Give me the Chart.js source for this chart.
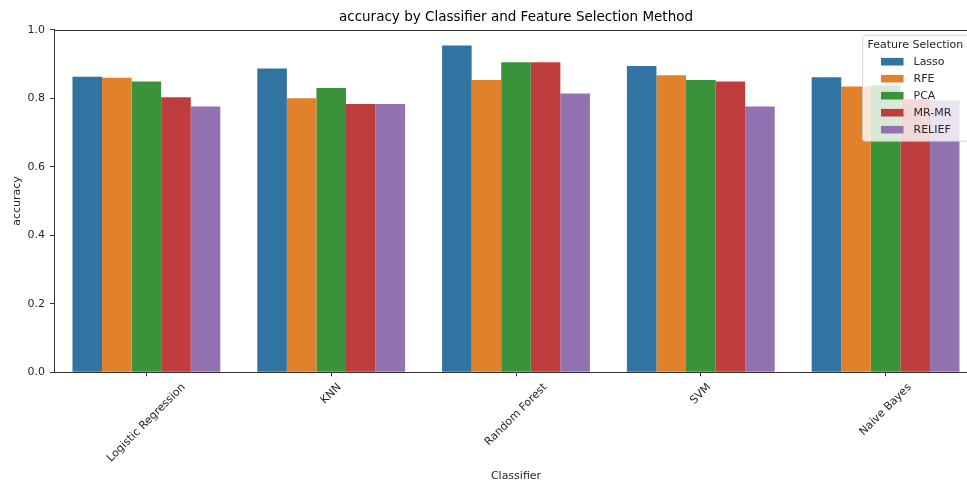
<!DOCTYPE html>
<html><head><meta charset="utf-8">
<script src="https://cdn.jsdelivr.net/npm/chart.js@4.4.0/dist/chart.umd.min.js"></script>
<style>
html,body{margin:0;padding:0;overflow:hidden;background:#fff;width:967px;height:483px}
#wrap{position:absolute;left:0;top:0;width:1000px;height:483px}
</style>
</head><body><div id="wrap"><canvas id="c" width="1000" height="483"></canvas></div>
<script>
const classifiers = ['Logistic Regression', 'KNN', 'Random Forest', 'SVM', 'Naive Bayes'];
const methods = ['Lasso', 'RFE', 'PCA', 'MR-MR', 'RELIEF'];
const lasso  = [0.863, 0.887, 0.954, 0.894, 0.861];
const rfe    = [0.860, 0.800, 0.853, 0.867, 0.834];
const pca    = [0.849, 0.830, 0.905, 0.853, 0.837];
const mrmr   = [0.803, 0.783, 0.905, 0.849, 0.797];
const relief = [0.776, 0.783, 0.814, 0.776, 0.793];
const yTicks = [0.0, 0.2, 0.4, 0.6, 0.8, 1.0];
const chartTitle = 'accuracy by Classifier and Feature Selection Method';
const xTitle = 'Classifier';
const yTitle = 'accuracy';
const legendTitle = 'Feature Selection';
const colors = ['#3274A1', '#E1812C', '#3A923A', '#C03D3E', '#9372B2'];

const FONT = 'DejaVu Sans';
const seriesValues = [lasso, rfe, pca, mrmr, relief];

const decor = {
  id: 'decor',
  afterDatasetsDraw(chart) {
    const ctx = chart.ctx, ca = chart.chartArea;
    // legend
    const fs = 11;
    const right = ca.right - 5.5, top = ca.top + 5.5;
    const w = 110, h = 106;
    const left = right - w;
    ctx.save();
    ctx.beginPath();
    if (ctx.roundRect) ctx.roundRect(left, top, w, h, 2.5); else ctx.rect(left, top, w, h);
    ctx.fillStyle = 'rgba(255,255,255,0.8)';
    ctx.fill();
    ctx.strokeStyle = 'rgba(204,204,204,0.8)';
    ctx.lineWidth = 1;
    ctx.stroke();
    ctx.font = fs + 'px "' + FONT + '"';
    ctx.fillStyle = '#262626';
    ctx.textBaseline = 'middle';
    ctx.textAlign = 'left';
    ctx.fillText(legendTitle, left + 5, top + 9.5);
    chart.data.datasets.forEach((ds, i) => {
      const cy = top + 26.5 + i * 17;
      ctx.fillStyle = ds.backgroundColor;
      ctx.fillRect(left + 18.5, cy - 3.8, 22.5, 7.6);
      ctx.fillStyle = '#262626';
      ctx.fillText(ds.label, left + 51, cy);
    });
    ctx.restore();
  },
  afterDraw(chart) {
    const ctx = chart.ctx, ca = chart.chartArea;
    ctx.save();
    // top & right spines
    ctx.strokeStyle = '#333';
    ctx.lineWidth = 1;
    ctx.beginPath();
    ctx.moveTo(ca.left, Math.round(ca.top) + 0.5);
    ctx.lineTo(ca.right, Math.round(ca.top) + 0.5);
    ctx.moveTo(Math.round(ca.right) + 0.5, ca.top);
    ctx.lineTo(Math.round(ca.right) + 0.5, ca.bottom);
    ctx.stroke();
    // title
    ctx.fillStyle = '#000';
    ctx.font = '13.5px "' + FONT + '"';
    ctx.textAlign = 'center';
    ctx.textBaseline = 'middle';
    ctx.fillText(chartTitle, (ca.left + ca.right) / 2, 17.5);
    // rotated x tick labels (matplotlib-style centered bbox)
    const xs = chart.scales.x;
    ctx.font = '11px "' + FONT + '"';
    ctx.fillStyle = '#262626';
    const hh = 12.8;
    xs.ticks.forEach((t, i) => {
      const label = chart.data.labels[i];
      const x = xs.getPixelForTick(i);
      const tw = ctx.measureText(label).width;
      const W = (tw + hh) * Math.SQRT1_2;
      const cy = ca.bottom + 8.7 + W / 2;
      ctx.save();
      ctx.translate(x, cy);
      ctx.rotate(-Math.PI / 4);
      ctx.textAlign = 'center';
      ctx.textBaseline = 'middle';
      ctx.fillText(label, 0, 0);
      ctx.restore();
    });
    ctx.restore();
  }
};

new Chart(document.getElementById('c'), {
  type: 'bar',
  data: {
    labels: classifiers,
    datasets: methods.map((m, i) => ({
      label: m,
      data: seriesValues[i],
      backgroundColor: colors[i],
      borderWidth: 0,
      categoryPercentage: 0.8,
      barPercentage: 1.0
    }))
  },
  options: {
    responsive: false,
    devicePixelRatio: 1,
    animation: false,
    layout: { padding: { top: 29.7, right: 22, left: 0, bottom: 0 } },
    plugins: {
      legend: { display: false },
      title: { display: false },
      tooltip: { enabled: false }
    },
    scales: {
      x: {
        type: 'category',
        offset: true,
        grid: { display: true, drawOnChartArea: false, drawTicks: true, tickLength: 4, offset: false, color: '#333' },
        border: { display: true, color: '#333', width: 1 },
        ticks: { display: false },
        title: { display: true, text: xTitle, color: '#262626', font: { family: FONT, size: 11 }, padding: { top: 0, bottom: 0.4 } },
        afterFit(s) { s.height = 110.7; }
      },
      y: {
        min: 0, max: 1,
        afterBuildTicks(s) { s.ticks = yTicks.map(v => ({ value: v })); },
        ticks: {
          color: '#262626', padding: 5,
          font: { family: FONT, size: 11 },
          callback: v => Number(v).toFixed(1)
        },
        grid: { display: true, drawOnChartArea: false, drawTicks: true, tickLength: 4, color: '#333' },
        border: { display: true, color: '#333', width: 1 },
        title: { display: true, text: yTitle, color: '#262626', font: { family: FONT, size: 11 }, padding: { top: 10.4, bottom: 0 } },
        afterFit(s) { s.width = 54; }
      }
    }
  },
  plugins: [decor]
});
</script>
</body></html>
